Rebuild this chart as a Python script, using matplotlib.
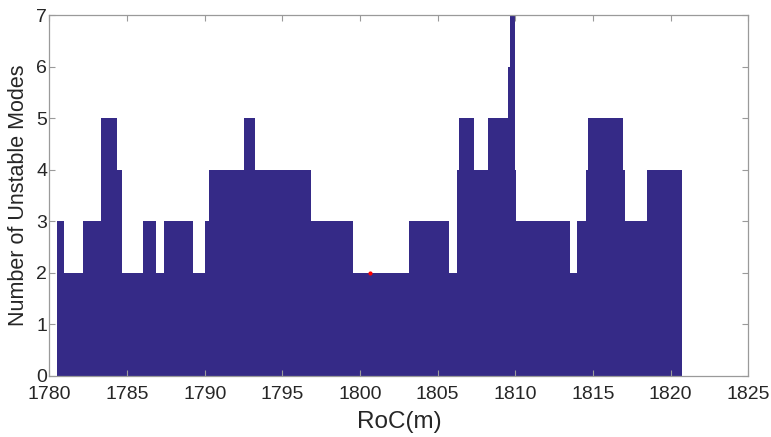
import matplotlib
matplotlib.use("Agg")
import matplotlib.pyplot as plt
from matplotlib import font_manager

# Step edges (RoC in m) and number of unstable modes in each interval
roc_edges = [1780.5, 1780.95, 1782.15, 1783.35, 1784.35, 1784.65, 1786.05, 1786.85,
             1787.35, 1789.25, 1790.05, 1790.25, 1792.55, 1793.25, 1796.85, 1799.55,
             1803.15, 1805.75, 1806.25, 1806.35, 1807.35, 1808.25, 1809.55, 1809.65,
             1809.95, 1810.05, 1813.55, 1813.95, 1814.55, 1814.65, 1816.95, 1817.05,
             1818.45, 1820.75]
n_unstable = [3, 2, 3, 5, 4, 2, 3, 2, 3, 2, 3, 4, 5, 4, 3, 2, 3, 2, 4, 5, 4, 5, 6, 7,
              4, 3, 2, 3, 4, 5, 4, 3, 4]
marker_roc = [1800.64]
marker_val = [2]

x_ticks = [1780, 1785, 1790, 1795, 1800, 1805, 1810, 1815, 1820, 1825]
y_ticks = [0, 1, 2, 3, 4, 5, 6, 7]

names = {f.name for f in font_manager.fontManager.ttflist}
fam = "Liberation Sans Narrow" if "Liberation Sans Narrow" in names else "Liberation Sans"
plt.rcParams['font.family'] = [fam, 'DejaVu Sans']

fig = plt.figure(figsize=(7.71, 4.37), dpi=100)
ax = fig.add_axes([49.4 / 771, 1 - 376 / 437, (748.3 - 49.4) / 771, (376 - 15) / 437])

ax.stairs(n_unstable, roc_edges, fill=True, color='#352A87', baseline=0, linewidth=0)
ax.plot(marker_roc, marker_val, 'o', color='#ff0000', markersize=3, markeredgewidth=0)

ax.set_xlim(1780, 1825)
ax.set_ylim(0, 7)
ax.set_xticks(x_ticks)
ax.set_yticks(y_ticks)
ax.tick_params(direction='in', length=4.3, width=0.8, labelsize=14,
               top=True, right=True, colors='#9a9a9a', labelcolor='#262626')
ax.tick_params(axis='x', pad=7)
ax.tick_params(axis='y', pad=1.5)
for s in ax.spines.values():
    s.set_color('#9a9a9a')
    s.set_linewidth(0.9)

ax.set_xlabel('RoC(m)', fontsize=17.5, color='#262626', labelpad=6)
ax.set_ylabel('Number of Unstable Modes', fontsize=15.5, color='#262626', labelpad=5)

fig.savefig('out.png', dpi=100)
